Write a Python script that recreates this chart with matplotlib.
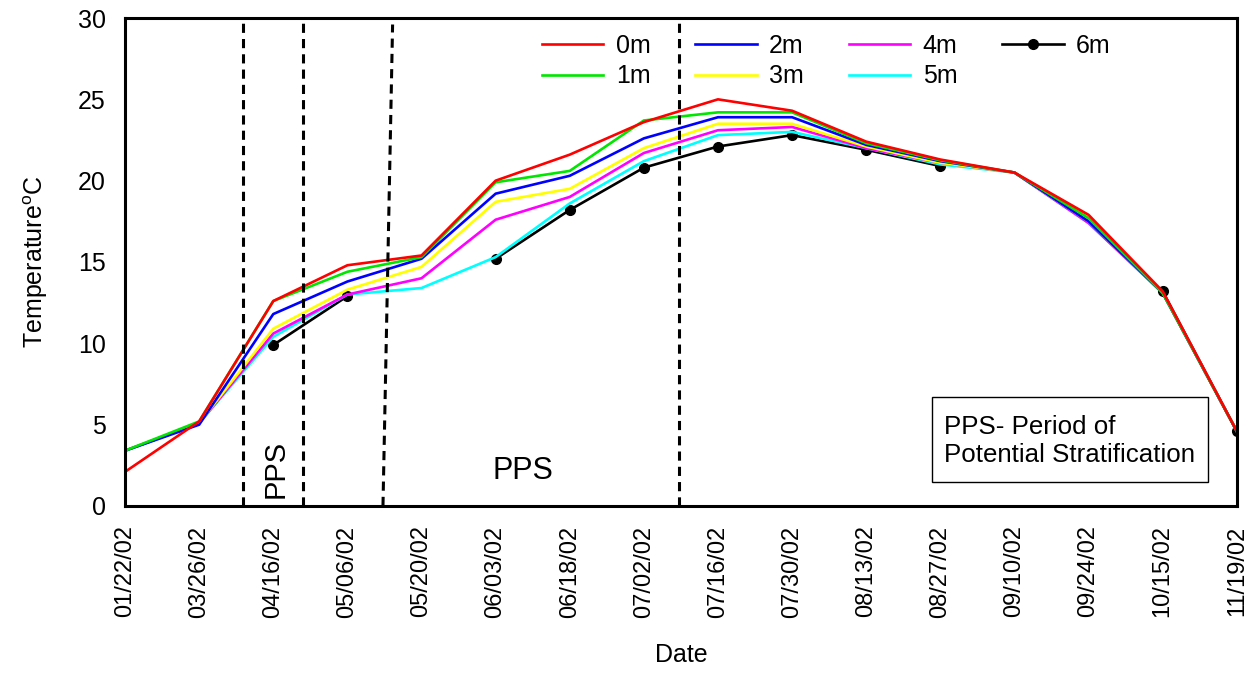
import numpy as np
import matplotlib
matplotlib.use("Agg")
import matplotlib.pyplot as plt
from matplotlib.patches import Rectangle

plt.rcParams['font.family'] = ['Liberation Sans', 'DejaVu Sans']
plt.rcParams['mathtext.default'] = 'regular'

nan = np.nan

dates = ['01/22/02', '03/26/02', '04/16/02', '05/06/02', '05/20/02', '06/03/02',
         '06/18/02', '07/02/02', '07/16/02', '07/30/02', '08/13/02', '08/27/02',
         '09/10/02', '09/24/02', '10/15/02', '11/19/02']

# water temperature by depth (deg C)
t_0m = [2.1, 5.2, 12.6, 14.8, 15.4, 20.0, 21.6, 23.6, 25.0, 24.3, 22.4, 21.3, 20.5, 17.9, 13.2, 4.6]
t_1m = [3.4, 5.2, 12.6, 14.4, 15.3, 19.9, 20.6, 23.7, 24.2, 24.2, 22.3, 21.25, 20.5, 17.7, 13.1, 4.6]
t_2m = [3.4, 5.0, 11.8, 13.8, 15.2, 19.2, 20.3, 22.6, 23.9, 23.9, 22.2, 21.2, 20.5, 17.5, 13.1, 4.6]
t_3m = [3.4, 5.1, 10.9, 13.3, 14.7, 18.7, 19.5, 22.0, 23.5, 23.5, 22.1, 21.1, 20.5, 17.5, 13.1, 4.6]
t_4m = [3.4, 5.1, 10.6, 13.0, 14.0, 17.6, 19.0, 21.7, 23.1, 23.3, 22.0, 21.1, 20.5, 17.4, 13.1, 4.6]
t_5m = [3.4, 5.1, 10.4, 13.0, 13.4, 15.3, 18.6, 21.2, 22.8, 23.0, 22.0, 21.0, 20.5, 17.4, 13.1, 4.6]
t_6m = [nan, nan, 9.9, 12.9, nan, 15.2, 18.2, 20.8, 22.1, 22.8, 21.9, 20.9, nan, nan, 13.2, 4.6]

depths = ['0m', '1m', '2m', '3m', '4m', '5m', '6m']
series = [t_0m, t_1m, t_2m, t_3m, t_4m, t_5m, t_6m]
colors = ['#ff0000', '#00e600', '#0000ff', '#ffff00', '#ff00ff', '#00ffff', '#000000']

# PPS boundaries, in category units
pps_lines = [1.59, 2.40, 7.48]
pps_slant_x = [3.48, 3.61]
pps_slant_y = [0, 29.6]

x = np.arange(len(dates))

fig = plt.figure(figsize=(12.48, 6.77), dpi=100)
ax = fig.add_axes([0.1002, 0.2526, 0.8908, 0.7208])

handles = {}
# deepest first so the surface line ends up on top
for name, vals, c in reversed(list(zip(depths, series, colors))):
    if name == '6m':
        ln, = ax.plot(x, vals, color=c, lw=1.9, marker='o', markersize=7)
    else:
        ln, = ax.plot(x, vals, color=c, lw=1.9)
    handles[name] = ln

dash = (0, (3, 2))
for xv in pps_lines:
    ax.plot([xv, xv], [0, 30], color='black', lw=2.2, linestyle=dash)
ax.plot(pps_slant_x, pps_slant_y, color='black', lw=2.2, linestyle=dash)

ax.text(2.03, 0.5, 'PPS', rotation=90, fontsize=21, ha='center', va='bottom')
ax.text(5.37, 1.2, 'PPS', fontsize=22, ha='center', va='bottom')

ax.add_patch(Rectangle((0.7257, 0.049), 0.2483, 0.174, transform=ax.transAxes,
                       fill=False, edgecolor='black', lw=1.0))
ax.text(0.737, 0.134, 'PPS- Period of\nPotential Stratification',
        transform=ax.transAxes, fontsize=18.6, va='center', ha='left', linespacing=1.22)

ax.legend([handles[d] for d in depths], depths, ncol=4, frameon=False, fontsize=18,
          loc='upper left', bbox_to_anchor=(0.375, 0.967), borderpad=0, borderaxespad=0,
          handlelength=2.45, handletextpad=0.5, columnspacing=1.8, labelspacing=0.25)

ax.set_xlim(0, len(dates) - 1)
ax.set_ylim(0, 30)
ax.set_yticks(np.arange(0, 31, 5))
ax.set_xticks(x)
ax.set_xticklabels(dates, rotation=90, fontsize=17)
ax.tick_params(axis='y', labelsize=18, length=0, pad=14)
ax.tick_params(axis='x', length=0, pad=14)
for s in ax.spines.values():
    s.set_linewidth(2.2)

ax.set_ylabel('Temperature$^{o}$C', fontsize=18, labelpad=20)
ax.set_xlabel('Date', fontsize=18, labelpad=18)

fig.savefig('out.png', dpi=100)
